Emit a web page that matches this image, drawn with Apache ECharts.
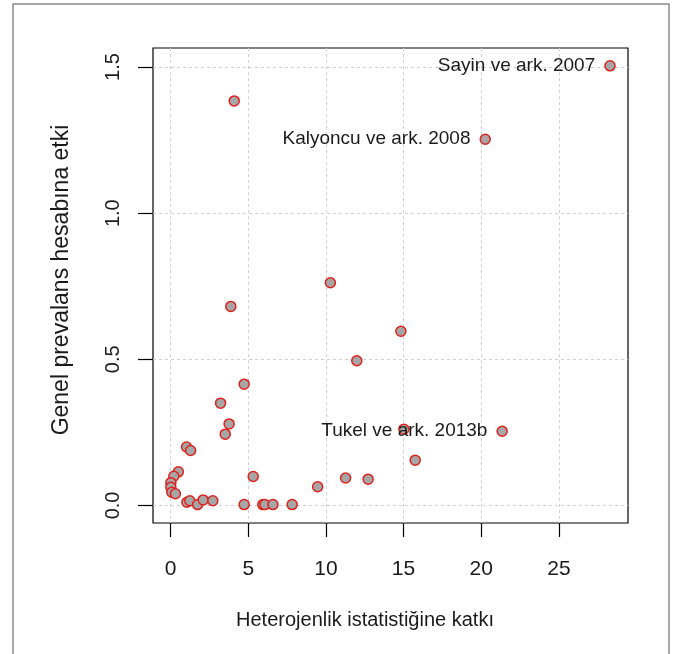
<!DOCTYPE html>
<html>
<head>
<meta charset="utf-8">
<script src="https://cdn.jsdelivr.net/npm/echarts@6/dist/echarts.min.js"></script>
<style>
html,body{margin:0;padding:0;background:#fff;}
#chart{width:676px;height:654px;}
</style>
</head>
<body>
<div id="chart"></div>
<script>
// Heterogeneity contribution (x) vs influence on overall prevalence (y)
var xValues = [28.29, 20.26, 21.35, 4.10, 10.29, 3.88, 14.83, 11.99, 4.74, 3.22, 3.77, 3.52,
  15.02, 15.75, 1.03, 1.29, 9.47, 11.27, 12.72, 5.32, 4.74, 5.94, 6.07, 6.59, 7.83,
  0.50, 0.21, 0.02, 0.02, 0.08, 0.31, 1.05, 1.24, 1.74, 2.10, 2.72];
var yValues = [1.504, 1.253, 0.254, 1.384, 0.762, 0.681, 0.596, 0.495, 0.415, 0.350, 0.279, 0.244,
  0.261, 0.155, 0.200, 0.188, 0.064, 0.094, 0.090, 0.099, 0.003, 0.003, 0.003, 0.003, 0.003,
  0.115, 0.100, 0.078, 0.062, 0.045, 0.040, 0.011, 0.016, 0.003, 0.019, 0.016];
var pointLabels = ["Sayin ve ark. 2007", "Kalyoncu ve ark. 2008", "Tukel ve ark. 2013b"];
var xTicks = [0, 5, 10, 15, 20, 25];
var yTicks = [0, 0.5, 1.0, 1.5];
var xTitle = "Heterojenlik istatistiğine katkı";
var yTitle = "Genel prevalans hesabına etki";

var FONT = "Liberation Sans, Arial, sans-serif";
var chart = echarts.init(document.getElementById('chart'), null, {renderer: 'canvas'});

var pts = xValues.map(function (x, i) {
  var p = {value: [x, yValues[i]]};
  if (i < pointLabels.length) {
    p.label = {show: true, formatter: pointLabels[i]};
  }
  return p;
});

var option = {
  backgroundColor: '#ffffff',
  animation: false,
  grid: {
    left: 153, top: 48, width: 475, height: 475,
    show: true, borderColor: '#000000', borderWidth: 1.2, backgroundColor: 'transparent'
  },
  xAxis: {
    type: 'value', min: -1.13, max: 29.45,
    axisLine: {show: false, onZero: false},
    axisTick: {show: true, inside: false, length: 14, customValues: xTicks,
      lineStyle: {color: '#000', width: 1.2}},
    axisLabel: {show: true, customValues: xTicks, margin: 36, fontSize: 21, fontFamily: FONT, color: '#1a1a1a',
      formatter: function (v) { return String(v); }},
    splitLine: {show: true, lineStyle: {color: '#cfcfcf', type: [3, 3], width: 1}}
  },
  yAxis: {
    type: 'value', min: -0.06, max: 1.565,
    axisLine: {show: false, onZero: false},
    axisTick: {show: true, inside: false, length: 15, customValues: yTicks,
      lineStyle: {color: '#000', width: 1.2}},
    axisLabel: {show: true, customValues: yTicks, rotate: 90, margin: 30, fontSize: 20, fontFamily: FONT, color: '#1a1a1a',
      formatter: function (v) { return v.toFixed(1); }},
    splitLine: {show: true, lineStyle: {color: '#cfcfcf', type: [3, 3], width: 1}}
  },
  graphic: [
    {type: 'rect', shape: {x: 13, y: 4, width: 656, height: 700}, style: {fill: 'none', stroke: '#8a8a8a', lineWidth: 1.5}, silent: true, z: -10},
    {type: 'text', x: 365, y: 620, style: {text: xTitle, font: '20px ' + FONT, fill: '#1a1a1a', textAlign: 'center', textVerticalAlign: 'middle'}},
    {type: 'text', x: 62, y: 280, rotation: Math.PI / 2, style: {text: yTitle, font: '23px ' + FONT, fill: '#1a1a1a', textAlign: 'center', textVerticalAlign: 'middle'}}
  ],
  series: [{
    type: 'scatter',
    data: pts,
    symbol: 'circle',
    symbolSize: 10,
    itemStyle: {color: '#a6a6a6', borderColor: '#e0201c', borderWidth: 1.5, opacity: 1},
    label: {show: false, position: 'left', distance: 9, fontSize: 19, fontFamily: FONT, color: '#1a1a1a'},
    labelLayout: {hideOverlap: false},
    emphasis: {disabled: true},
    z: 5
  }]
};
chart.setOption(option);
</script>
</body>
</html>
